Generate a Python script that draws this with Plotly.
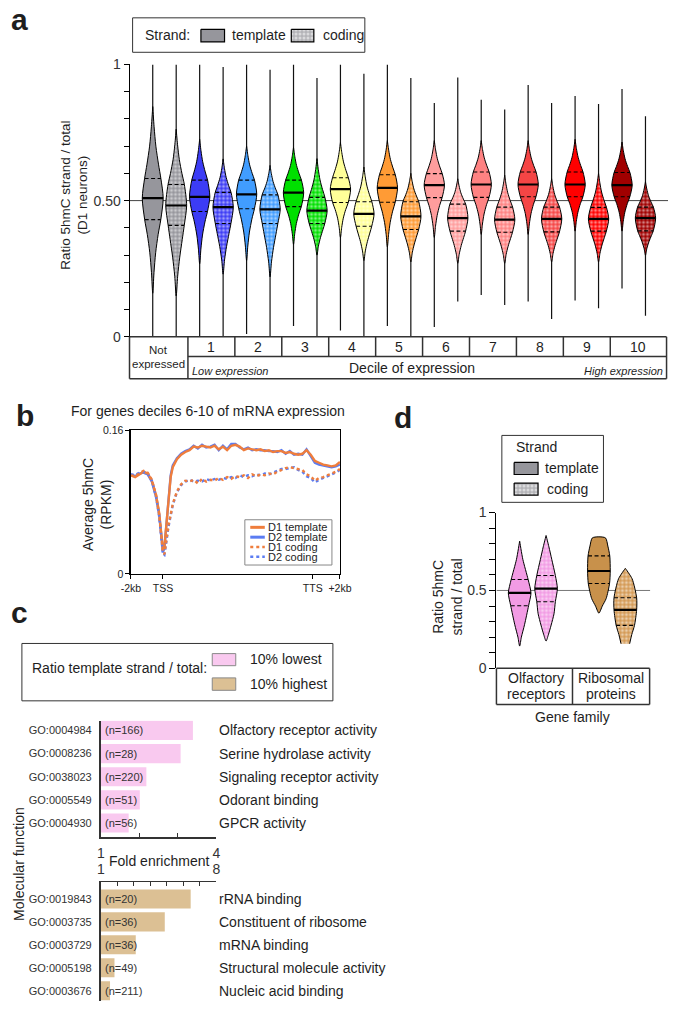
import numpy as np
import plotly.graph_objects as go

W, H = 680, 1009
FONT = "Arial, Liberation Sans, Helvetica, sans-serif"
INK = "#1e1e1e"


def px(x):
    return x / W


def py(y):
    return 1 - y / H


# ---------------- Panel a data ----------------
groups_a = ["Not expressed", "1", "2", "3", "4", "5", "6", "7", "8", "9", "10"]
group_colors = ["#96969c", "#3c3cf5", "#419dff", "#00e000", "#ffff99", "#ff9b35",
                "#ff9d9d", "#ff8282", "#f54545", "#ff0000", "#a00000"]
tmpl_med = [0.509, 0.514, 0.523, 0.529, 0.542, 0.547, 0.557, 0.559, 0.559, 0.559, 0.557]
tmpl_q1 = [0.430, 0.460, 0.470, 0.478, 0.493, 0.494, 0.511, 0.512, 0.514, 0.514, 0.514]
tmpl_q3 = [0.581, 0.575, 0.575, 0.575, 0.584, 0.595, 0.599, 0.605, 0.605, 0.605, 0.603]
tmpl_min = [0.0, 0.0, 0.010, 0.040, 0.023, 0.040, 0.036, 0.153, 0.130, 0.133, 0.177]
tmpl_max = [1.0, 1.0, 1.0, 1.0, 1.0, 1.0, 0.858, 0.870, 0.924, 0.884, 0.910]
tmpl_body_top = [0.845, 0.725, 0.700, 0.695, 0.713, 0.720, 0.720, 0.720, 0.720, 0.725, 0.715]
tmpl_body_bot = [0.160, 0.268, 0.280, 0.340, 0.365, 0.330, 0.365, 0.376, 0.376, 0.388, 0.388]
cod_med = [0.482, 0.476, 0.468, 0.463, 0.451, 0.442, 0.436, 0.430, 0.433, 0.433, 0.436]
cod_q1 = [0.409, 0.416, 0.416, 0.416, 0.406, 0.394, 0.388, 0.384, 0.385, 0.388, 0.389]
cod_q3 = [0.559, 0.530, 0.521, 0.512, 0.496, 0.496, 0.487, 0.476, 0.476, 0.475, 0.476]
cod_min = [0.0, 0.0, 0.0, 0.0, 0.0, 0.0, 0.130, 0.117, 0.065, 0.105, 0.077]
cod_max = [1.0, 0.990, 0.980, 0.950, 0.966, 0.950, 0.952, 0.834, 0.858, 0.855, 0.810]
cod_body_top = [0.762, 0.653, 0.629, 0.654, 0.623, 0.600, 0.580, 0.593, 0.580, 0.600, 0.569]
cod_body_bot = [0.150, 0.230, 0.220, 0.300, 0.280, 0.275, 0.270, 0.270, 0.275, 0.275, 0.300]
a_ticks = [0, 0.1, 0.2, 0.3, 0.4, 0.5, 0.6, 0.7, 0.8, 0.9, 1.0]
a_ticktext = ["0", "", "", "", "", "0.50", "", "", "", "", "1"]

# ---------------- Panel b data ----------------
b_x = [0, 2, 4, 6, 8, 10, 12, 13.5, 14.5, 15.3, 16, 17, 18, 19, 20, 22, 24, 26, 28, 30,
       32, 34, 36, 38, 40, 42, 44, 46, 48, 50, 52, 54, 56, 58, 60, 62, 64, 66, 68, 70,
       72, 74, 76, 78, 80, 82, 84, 86, 88, 90, 92, 94, 96, 98, 100]
d1_template = [0.110, 0.108, 0.111, 0.114, 0.112, 0.104, 0.088, 0.068, 0.045, 0.026,
               0.030, 0.058, 0.088, 0.108, 0.119, 0.128, 0.133, 0.136, 0.138, 0.142,
               0.141, 0.143, 0.142, 0.141, 0.143, 0.139, 0.142, 0.138, 0.143, 0.144,
               0.142, 0.138, 0.140, 0.139, 0.138, 0.139, 0.137, 0.138, 0.136, 0.137,
               0.137, 0.135, 0.136, 0.134, 0.133, 0.134, 0.138, 0.133, 0.126, 0.124,
               0.122, 0.121, 0.120, 0.121, 0.125]
d2_template = [0.111, 0.109, 0.112, 0.113, 0.111, 0.103, 0.086, 0.066, 0.043, 0.024,
               0.029, 0.057, 0.090, 0.110, 0.121, 0.129, 0.134, 0.137, 0.139, 0.143,
               0.140, 0.144, 0.141, 0.142, 0.144, 0.138, 0.143, 0.139, 0.145, 0.145,
               0.141, 0.139, 0.141, 0.138, 0.139, 0.138, 0.138, 0.137, 0.137, 0.136,
               0.138, 0.134, 0.137, 0.133, 0.134, 0.133, 0.139, 0.131, 0.124, 0.122,
               0.121, 0.120, 0.119, 0.120, 0.122]
d1_coding = [0.110, 0.109, 0.112, 0.115, 0.113, 0.105, 0.088, 0.066, 0.043, 0.024,
             0.022, 0.040, 0.055, 0.066, 0.078, 0.092, 0.100, 0.104, 0.103, 0.105,
             0.101, 0.106, 0.103, 0.105, 0.104, 0.107, 0.105, 0.108, 0.106, 0.109,
             0.108, 0.110, 0.107, 0.111, 0.109, 0.111, 0.110, 0.112, 0.111, 0.114,
             0.116, 0.118, 0.119, 0.118, 0.117, 0.116, 0.111, 0.109, 0.104, 0.107,
             0.108, 0.110, 0.112, 0.114, 0.117]
d2_coding = [0.111, 0.110, 0.113, 0.114, 0.112, 0.104, 0.086, 0.064, 0.041, 0.022,
             0.021, 0.038, 0.053, 0.065, 0.077, 0.091, 0.099, 0.103, 0.105, 0.103,
             0.104, 0.103, 0.106, 0.104, 0.106, 0.105, 0.107, 0.106, 0.108, 0.107,
             0.110, 0.108, 0.110, 0.109, 0.111, 0.110, 0.112, 0.111, 0.113, 0.115,
             0.117, 0.117, 0.118, 0.119, 0.116, 0.114, 0.109, 0.107, 0.102, 0.105,
             0.107, 0.109, 0.111, 0.113, 0.116]
b_tickvals = [0, 15.3, 87, 100]
b_ticktext = ["-2kb", "TSS", "TTS", "+2kb"]
b_series = ["D1 template", "D2 template", "D1 coding", "D2 coding"]

# ---------------- Panel c data ----------------
go_low = ["GO:0004984", "GO:0008236", "GO:0038023", "GO:0005549", "GO:0004930"]
term_low = ["Olfactory receptor activity", "Serine hydrolase activity",
            "Signaling receptor activity", "Odorant binding", "GPCR activity"]
n_low = [166, 28, 220, 51, 56]
fold_low = [3.39, 3.07, 2.18, 2.01, 1.72]
go_high = ["GO:0019843", "GO:0003735", "GO:0003729", "GO:0005198", "GO:0003676"]
term_high = ["rRNA binding", "Constituent of ribosome", "mRNA binding",
             "Structural molecule activity", "Nucleic acid binding"]
n_high = [20, 36, 36, 49, 211]
fold_high = [6.44, 4.87, 3.11, 1.82, 1.55]

# ---------------- Panel d data ----------------
d_families = ["Olfactory<br>receptors", "Ribosomal<br>proteins"]
d_q1 = [0.402, 0.428, 0.545, 0.276]
d_med = [0.484, 0.512, 0.625, 0.375]
d_q3 = [0.570, 0.596, 0.722, 0.453]
d_levels = [
    [0.143, 0.200, 0.280, 0.402, 0.484, 0.570, 0.700, 0.817],
    [0.175, 0.215, 0.278, 0.350, 0.428, 0.512, 0.596, 0.700, 0.780, 0.853],
    [0.354, 0.400, 0.448, 0.545, 0.625, 0.722, 0.785, 0.838],
    [0.158, 0.217, 0.276, 0.375, 0.453, 0.575, 0.642],
]
d_density = [
    [0.0, 0.15, 0.43, 0.79, 1.0, 0.75, 0.28, 0.0],
    [0.0, 0.20, 0.45, 0.70, 0.82, 1.0, 0.82, 0.50, 0.25, 0.0],
    [0.0, 0.30, 0.64, 0.94, 1.0, 0.96, 0.79, 0.57],
    [0.38, 0.57, 0.81, 1.0, 1.0, 0.60, 0.0],
]

fig = go.Figure()


def txt(x, y, s, size=14, xanchor="center", yanchor="middle", color=INK, angle=0):
    fig.add_annotation(x=px(x), y=py(y), xref="paper", yref="paper", text=s,
                       showarrow=False, xanchor=xanchor, yanchor=yanchor, textangle=angle,
                       font=dict(size=size, family=FONT, color=color))


def seg(x0, y0, x1, y1, color="#333", width=1.5, dash=None):
    fig.add_shape(type="line", xref="paper", yref="paper", x0=px(x0), y0=py(y0),
                  x1=px(x1), y1=py(y1), line=dict(color=color, width=width, dash=dash))


def box(x0, y0, x1, y1, color="#333", width=1, fill=None):
    fig.add_shape(type="rect", xref="paper", yref="paper", x0=px(x0), y0=py(y0),
                  x1=px(x1), y1=py(y1), line=dict(color=color, width=width),
                  fillcolor=fill, layer="above")


def checker(color):
    return dict(shape=".", bgcolor=color, fgcolor="white", size=4, solidity=0.45)


def body(xs, ys, color, coded, xa, ya, smooth=0.9):
    kw = dict(fillpattern=checker(color)) if coded else {}
    fig.add_trace(go.Scatter(x=xs, y=ys, mode="lines", fill="toself", fillcolor=color,
                             line=dict(color="black", width=1, shape="spline", smoothing=smooth),
                             xaxis=xa, yaxis=ya, hoverinfo="skip", showlegend=False, **kw))


# ================= Panel a =================
A_X0, A_X1 = 123.5, 680.0
A_RANGE = [-0.99, 21.96]
A_PPU = (A_X1 - A_X0) / (A_RANGE[1] - A_RANGE[0])
A_Y0, A_Y1 = 334.1, 57.3


def a_px(v):
    return A_X0 + (v - A_RANGE[0]) * A_PPU


fig.add_shape(type="line", xref="x", yref="y", x0=A_RANGE[0], x1=A_RANGE[1], y0=0.5, y1=0.5,
              line=dict(color="#444", width=1), layer="below")

strand_sets = [
    dict(med=tmpl_med, q1=tmpl_q1, q3=tmpl_q3, vmin=tmpl_min, vmax=tmpl_max,
         top=tmpl_body_top, bot=tmpl_body_bot, coded=False),
    dict(med=cod_med, q1=cod_q1, q3=cod_q3, vmin=cod_min, vmax=cod_max,
         top=cod_body_top, bot=cod_body_bot, coded=True),
]
tail_x, tail_y, med_x, med_y, qx, qy = [], [], [], [], [], []
for g in range(len(groups_a)):
    for s, d in enumerate(strand_sets):
        xc = 2 * g + s
        tail_x += [xc, xc, None]
        tail_y += [d["vmin"][g], d["vmax"][g], None]
fig.add_trace(go.Scatter(x=tail_x, y=tail_y, mode="lines", line=dict(color="#111", width=1.2),
                         xaxis="x", yaxis="y", hoverinfo="skip", showlegend=False))
for g in range(len(groups_a)):
    for s, d in enumerate(strand_sets):
        xc = 2 * g + s
        hw = (10.8 if g == 0 else 10.5) / A_PPU
        b, q1, m, q3, t = d["bot"][g], d["q1"][g], d["med"][g], d["q3"][g], d["top"][g]
        if d["coded"]:
            lo_rel = [0, 0.14, 0.34, 0.58]
        else:
            lo_rel = [0, 0.12, 0.28, 0.52]
        levels = [b, q1 - 0.72 * (q1 - b), q1 - 0.45 * (q1 - b), q1 - 0.2 * (q1 - b),
                  q1, m, q3,
                  q3 + 0.2 * (t - q3), q3 + 0.45 * (t - q3), q3 + 0.72 * (t - q3), t]
        rel = lo_rel + [0.77, 1.0, 0.78] + [0.55, 0.3, 0.13, 0]
        xs = [xc + r * hw for r in rel] + [xc - r * hw for r in rel[::-1]]
        ys = levels + levels[::-1]
        body(xs, ys, group_colors[g], d["coded"], "x", "y", smooth=0.8)
        med_x += [xc - hw, xc + hw, None]
        med_y += [m, m, None]
        qx += [xc - 0.77 * hw, xc + 0.77 * hw, None, xc - 0.78 * hw, xc + 0.78 * hw, None]
        qy += [q1, q1, None, q3, q3, None]
fig.add_trace(go.Scatter(x=qx, y=qy, mode="lines", line=dict(color="black", width=1.1, dash="4px,2.5px"),
                         xaxis="x", yaxis="y", hoverinfo="skip", showlegend=False))
fig.add_trace(go.Scatter(x=med_x, y=med_y, mode="lines", line=dict(color="black", width=2.2),
                         xaxis="x", yaxis="y", hoverinfo="skip", showlegend=False))

# table under panel a
T_TOP, T_MID, T_BOT = A_Y0, 354.0, 376.7
right = 678.5
seg(A_X0, T_TOP, right, T_TOP)
seg(A_X0, T_BOT, right, T_BOT)
first_border = a_px(1.5)
seg(first_border, T_MID, right, T_MID)
seg(A_X0, T_TOP, A_X0, T_BOT)
seg(first_border, T_TOP, first_border, T_BOT)
seg(right, T_TOP, right, T_BOT)
for k in range(1, len(groups_a) - 1):
    xb = a_px(1.5 + 2 * k)
    seg(xb, T_TOP, xb, T_MID)
txt((A_X0 + first_border) / 2, 347.3, "Not", size=11.5)
txt((A_X0 + first_border) / 2, 361.5, "expressed", size=11.5)
for k in range(1, len(groups_a)):
    x0 = a_px(2 * k - 0.5)
    x1 = a_px(2 * k + 1.5) if k < len(groups_a) - 1 else right
    txt((x0 + x1) / 2, 344.8, groups_a[k], size=14)
txt(415.5, 365.5, "Decile of expression", size=14)
txt(186, 368.5, "<i>Low expression</i>", size=11, xanchor="left")
txt(677, 368.5, "<i>High expression</i>", size=11, xanchor="right")

# y title a
txt(67, 190, "Ratio 5hmC strand / total<br>(D1 neurons)", size=13.5, angle=-90)
# legend a
box(126.7, 10, 366.7, 45, color="#333", width=1)
txt(137.5, 27.3, "Strand:", size=14, xanchor="left")
txt(227.5, 27.3, "template", size=14, xanchor="left")
txt(321, 27.3, "coding", size=14, xanchor="left")

# panel letters
txt(-1, 11.5, "<b>a</b>", size=30, xanchor="left")
txt(4, 414.5, "<b>b</b>", size=30, xanchor="left")
txt(-1, 614.5, "<b>c</b>", size=30, xanchor="left")
txt(395, 416.5, "<b>d</b>", size=30, xanchor="left")

# ================= Panel b =================
B_X0, B_X1, B_Y0, B_Y1 = 125.0, 341.0, 575.0, 429.3
b_colors = ["#ef7d3c", "#5b7cf2", "#ef7d3c", "#5b7cf2"]
b_data = [d1_template, d2_template, d1_coding, d2_coding]
b_dash = ["solid", "solid", "dot", "dot"]
for i in [1, 0, 3, 2]:
    fig.add_trace(go.Scatter(x=b_x, y=b_data[i], mode="lines", name=b_series[i],
                             line=dict(color=b_colors[i], width=2.4, dash=b_dash[i]),
                             xaxis="x2", yaxis="y2", hoverinfo="skip", showlegend=False))
txt(204.5, 410, "For genes deciles 6-10 of mRNA expression", size=14)
txt(90, 505, "Average 5hmC<br>(RPKM)", size=14, angle=-90)
box(242.7, 520, 332.7, 566, color="#888", width=1)
for i, name in enumerate(b_series):
    yy = 527.7 + 10 * i
    seg(248.3, yy, 263.3, yy, color=b_colors[i], width=3 if i < 2 else 2.5,
        dash=None if i < 2 else "dot")
    txt(264.5, yy, name, size=11, xanchor="left")

# ================= Panel c =================
C_AX, C_X4 = 94.0, 213.3
PINK, TAN = "#f9c9ef", "#dcc094"
fig.add_trace(go.Bar(x=fold_low, y=list(range(5)), orientation="h", width=0.83,
                     marker=dict(color=PINK, line=dict(width=0)), xaxis="x3", yaxis="y3",
                     hoverinfo="skip", showlegend=False))
fig.add_trace(go.Bar(x=fold_high, y=list(range(5)), orientation="h", width=0.83,
                     marker=dict(color=TAN, line=dict(width=0)), xaxis="x4", yaxis="y4",
                     hoverinfo="skip", showlegend=False))
for i in range(5):
    fig.add_annotation(x=1, y=i, xref="x3", yref="y3", text=f"(n={n_low[i]})", showarrow=False,
                       xanchor="left", xshift=2.5, font=dict(size=11, family=FONT, color="#333"))
    fig.add_annotation(x=px(214), y=i, xref="paper", yref="y3", text=term_low[i], showarrow=False,
                       xanchor="left", font=dict(size=14, family=FONT, color=INK))
    fig.add_annotation(x=1, y=i, xref="x4", yref="y4", text=f"(n={n_high[i]})", showarrow=False,
                       xanchor="left", xshift=2.5, font=dict(size=11, family=FONT, color="#333"))
    fig.add_annotation(x=px(214), y=i, xref="paper", yref="y4", text=term_high[i], showarrow=False,
                       xanchor="left", font=dict(size=14, family=FONT, color=INK))
txt(153.5, 866.7, "Fold enrichment", size=14)
txt(10, 870, "Molecular function", size=14, angle=-90)
box(12.3, 645.7, 333.7, 704, color="#333", width=1)
txt(21, 671, "Ratio template strand / total:", size=14, xanchor="left")
box(209, 656, 233.3, 668.3, color="#888", width=1, fill=PINK)
box(209, 680.7, 233.3, 693.3, color="#888", width=1, fill=TAN)
txt(246, 661, "10% lowest", size=14, xanchor="left")
txt(246, 686.5, "10% highest", size=14, xanchor="left")

# ================= Panel d =================
D_X0, D_X1 = 502.7, 661.7
D_RANGE = [-0.879, 4.945]
D_PPU = (D_X1 - D_X0) / (D_RANGE[1] - D_RANGE[0])
D_Y0, D_Y1 = 671.0, 512.7
d_pos = [0, 1, 3, 4]
d_colors = ["#f29be4", "#f29be4", "#c8914b", "#d49a55"]
d_coded = [False, True, False, True]
fig.add_shape(type="line", xref="x5", yref="y5", x0=D_RANGE[0], x1=D_RANGE[1], y0=0.5, y1=0.5,
              line=dict(color="#777", width=1), layer="below")
dmx, dmy, dqx, dqy = [], [], [], []
for i in range(4):
    xc = d_pos[i]
    hw = 11.7 / D_PPU
    lv, dn = d_levels[i], d_density[i]
    xs = [xc + r * hw for r in dn] + [xc - r * hw for r in dn[::-1]]
    ys = lv + lv[::-1]
    body(xs, ys, d_colors[i], d_coded[i], "x5", "y5", smooth=0.7)
    for q, store_x, store_y in [(d_med[i], dmx, dmy), (d_q1[i], dqx, dqy), (d_q3[i], dqx, dqy)]:
        h = float(np.interp(q, lv, dn)) * hw
        store_x += [xc - h, xc + h, None]
        store_y += [q, q, None]
fig.add_trace(go.Scatter(x=dqx, y=dqy, mode="lines", line=dict(color="black", width=1.1, dash="4px,2.5px"),
                         xaxis="x5", yaxis="y5", hoverinfo="skip", showlegend=False))
fig.add_trace(go.Scatter(x=dmx, y=dmy, mode="lines", line=dict(color="black", width=2.2),
                         xaxis="x5", yaxis="y5", hoverinfo="skip", showlegend=False))
# table d
DT_BOT = 707.7
d_right = 661.0
d_mid = D_X0 + (2.0 - D_RANGE[0]) * D_PPU
seg(D_X0, D_Y0, d_right, D_Y0)
seg(D_X0, DT_BOT, d_right, DT_BOT)
seg(D_X0, D_Y0, D_X0, DT_BOT)
seg(d_mid, D_Y0, d_mid, DT_BOT)
seg(d_right, D_Y0, d_right, DT_BOT)
for j, fam in enumerate(d_families):
    cx = (D_X0 + d_mid) / 2 + 2 if j == 0 else (d_mid + d_right) / 2
    a, b2 = fam.split("<br>")
    txt(cx, 680.7, a, size=14)
    txt(cx, 697.3, b2, size=14)
txt(581.7, 720, "Gene family", size=14)
txt(451.5, 598, "Ratio 5hmC<br>strand / total", size=14, angle=-90)
box(508.3, 434.3, 613.3, 502.3, color="#333", width=1)
txt(521, 446, "Strand", size=14, xanchor="left")
txt(551, 467.5, "template", size=14, xanchor="left")
txt(552.5, 488.7, "coding", size=14, xanchor="left")

# legend swatches drawn on a pixel overlay axis
swatches = [(197.3, 21.7, 221.7, 34.5, "#96969c", False),
            (290.7, 21.7, 314.0, 34.5, "#b4b4b8", True),
            (521.0, 461.7, 545.7, 474.0, "#96969c", False),
            (521.0, 482.7, 545.7, 495.0, "#b4b4b8", True)]
for (x0, y0, x1, y1, col, coded) in swatches:
    kw = dict(fillpattern=checker(col)) if coded else {}
    fig.add_trace(go.Scatter(x=[x0, x1, x1, x0, x0], y=[y0, y0, y1, y1, y0], mode="lines",
                             fill="toself", fillcolor=col, line=dict(color="black", width=1.2),
                             xaxis="x6", yaxis="y6", hoverinfo="skip", showlegend=False, **kw))

axis_font = dict(size=14, family=FONT, color="#333")
fig.update_layout(
    width=W, height=H, margin=dict(l=0, r=0, t=0, b=0),
    paper_bgcolor="white", plot_bgcolor="rgba(0,0,0,0)", showlegend=False,
    font=dict(family=FONT, color=INK),
    xaxis=dict(domain=[px(A_X0), 1], range=A_RANGE, visible=False, anchor="y"),
    yaxis=dict(domain=[py(A_Y0), py(A_Y1)], range=[0, 1], anchor="x", showline=True,
               linecolor="black", linewidth=1, ticks="outside", ticklen=5, tickwidth=1,
               tickcolor="black", tickvals=a_ticks, ticktext=a_ticktext, showgrid=False,
               zeroline=False, tickfont=axis_font),
    xaxis2=dict(domain=[px(B_X0), px(B_X1)], range=[0, 100], anchor="y2", showline=True,
                mirror=True, linecolor="black", linewidth=1.5, ticks="outside", ticklen=4,
                tickcolor="black", tickvals=b_tickvals, ticktext=b_ticktext, showgrid=False,
                zeroline=False, tickfont=dict(size=10.5, family=FONT, color="#222")),
    yaxis2=dict(domain=[py(B_Y0), py(B_Y1)], range=[0, 0.16], anchor="x2", showline=True,
                mirror=True, linecolor="black", linewidth=1.5, ticks="outside", ticklen=4,
                tickcolor="black", tickvals=[0, 0.16], ticktext=["0", "0.16"], showgrid=False,
                zeroline=False, tickfont=dict(size=10.5, family=FONT, color="#222")),
    xaxis3=dict(domain=[px(C_AX), px(C_X4)], range=[1, 4], anchor="y3", showline=True,
                linecolor="#333", linewidth=1.5, ticks="inside", ticklen=4, tickcolor="#333",
                tickvals=[1, 2, 3, 4], ticktext=["1", "", "", "4"], showgrid=False,
                zeroline=False, tickfont=axis_font, ticklabelstandoff=2),
    yaxis3=dict(domain=[py(842.7), py(724.0)], range=[4.62, -0.43], anchor="x3", showline=True,
                linecolor="#333", linewidth=2, ticks="", tickvals=list(range(5)), ticktext=go_low,
                showgrid=False, zeroline=False, ticklabelstandoff=5,
                tickfont=dict(size=11, family=FONT, color="#333")),
    xaxis4=dict(domain=[px(C_AX), px(C_X4)], range=[1, 8], anchor="y4", side="top",
                showline=True, linecolor="#333", linewidth=1.5, ticks="inside", ticklen=4,
                tickcolor="#333", tickvals=list(range(1, 9)),
                ticktext=["1", "", "", "", "", "", "", "8"], showgrid=False, zeroline=False,
                tickfont=axis_font, ticklabelstandoff=1),
    yaxis4=dict(domain=[0, py(888.3)], range=[4.45, -0.73], anchor="x4", showline=True,
                linecolor="#333", linewidth=2, ticks="", tickvals=list(range(5)), ticktext=go_high,
                showgrid=False, zeroline=False, ticklabelstandoff=5,
                tickfont=dict(size=11, family=FONT, color="#333")),
    xaxis5=dict(domain=[px(D_X0), px(D_X1)], range=D_RANGE, visible=False, anchor="y5"),
    yaxis5=dict(domain=[py(D_Y0), py(D_Y1)], range=[0, 1], anchor="x5", showline=True,
                linecolor="black", linewidth=1, ticks="outside", ticklen=6, tickwidth=1,
                tickcolor="black", tickvals=a_ticks,
                ticktext=["0", "", "", "", "", "0.5", "", "", "", "", "1"], showgrid=False,
                zeroline=False, tickfont=axis_font),
    xaxis6=dict(domain=[0, 1], range=[0, W], visible=False, anchor="y6"),
    yaxis6=dict(domain=[0, 1], range=[H, 0], visible=False, anchor="x6"),
)

fig.write_html("out.html", config={"displayModeBar": False, "staticPlot": True},
               post_script="document.body.style.margin='0';document.body.style.overflow='hidden';")
